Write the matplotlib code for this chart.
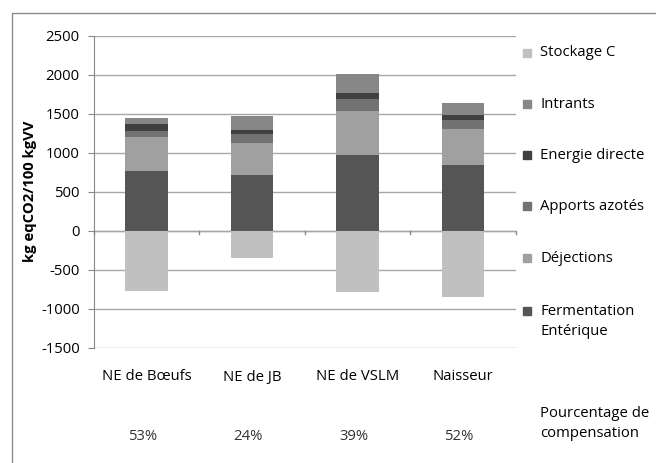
import matplotlib.pyplot as plt
from matplotlib.patches import Rectangle
import numpy as np

# Données (kg eqCO2 / 100 kgVV)
categories = ["NE de Bœufs", "NE de JB", "NE de VSLM", "Naisseur"]
fermentation = [759, 713, 973, 845]
dejections = [448, 405, 563, 457]
apports_azotes = [77, 120, 154, 119]
energie_directe = [82, 55, 81, 64]
intrants = [77, 179, 235, 154]
stockage_c = [-770, -350, -790, -855]

postes = [
    ("Fermentation\nEntérique", fermentation, "#555555"),
    ("Déjections", dejections, "#a0a0a0"),
    ("Apports azotés", apports_azotes, "#727272"),
    ("Energie directe", energie_directe, "#404040"),
    ("Intrants", intrants, "#878787"),
]
stock_color = "#c0c0c0"

plt.rcParams["font.family"] = ["Open Sans", "DejaVu Sans"]
plt.rcParams["axes.unicode_minus"] = False
FS = 10.7

W, H = 656, 463
fig = plt.figure(figsize=(W / 100, H / 100), dpi=100)
ax = fig.add_axes([93.75 / W, 1 - 347.7 / H, 422 / W, 312 / H])

x = np.arange(len(categories))
bottom = np.zeros(len(categories))
for label, vals, color in postes:
    ax.bar(x, vals, width=0.4, bottom=bottom, color=color, zorder=3)
    bottom += np.array(vals)
ax.bar(x, stockage_c, width=0.4, color=stock_color, zorder=3)

ax.set_xlim(-0.5, len(categories) - 0.5)
ax.set_ylim(-1500, 2500)
ax.set_yticks(np.arange(-1500, 2501, 500))
ax.yaxis.grid(True, color="#a8a8a8", lw=1, zorder=0)
ax.tick_params(axis="y", length=4, color="#888888", labelsize=FS, pad=6)
ax.set_xticks([])
for side in ["top", "right", "bottom"]:
    ax.spines[side].set_visible(False)
ax.spines["left"].set_color("#888888")
ax.axhline(0, color="#a8a8a8", lw=1, zorder=2)
# petites graduations de l'axe des catégories (croise à 0)
for b in np.arange(-0.5, len(categories), 1.0):
    ax.plot([b, b], [0, -45], color="#888888", lw=1, zorder=2, clip_on=False)

ax.set_ylabel("kg eqCO2/100 kgVV", fontsize=FS, fontweight="bold", labelpad=3)

# étiquettes des catégories et pourcentages de compensation
totals = bottom
for i, cat in enumerate(categories):
    xf = (93.75 + (i + 0.5) * 105.5) / W
    fig.text(xf, 1 - 377 / H, cat, ha="center", va="center", fontsize=FS)
    pct = round(-stockage_c[i] / totals[i] * 100)
    fig.text(xf - 4 / W, 1 - 436 / H, f"{pct}%", ha="center", va="center", fontsize=FS, color="#333333")
fig.text(540 / W, 1 - 423.5 / H, "Pourcentage de\ncompensation", ha="left", va="center",
         fontsize=FS, linespacing=1.45)

# légende
legend_items = [("Stockage C", stock_color)] + [(l, c) for l, _, c in reversed(postes)]
legend_y = [53, 104, 155, 206, 258, 311]
for (label, color), yy in zip(legend_items, legend_y):
    fig.patches.append(Rectangle((523 / W, 1 - (yy + 4) / H), 8 / W, 8 / H,
                                 transform=fig.transFigure, color=color))
    ny = label.count("\n")
    fig.text(540 / W, 1 - (yy + 10.5 * ny) / H, label, ha="left", va="center",
             fontsize=FS, linespacing=1.45)

# cadre du graphique
fig.patches.append(Rectangle((12 / W, -0.1), 1.2, 1 - 13 / H + 0.1, transform=fig.transFigure,
                             fill=False, edgecolor="#8a8a8a", lw=1))

fig.savefig("out.png", dpi=100)
